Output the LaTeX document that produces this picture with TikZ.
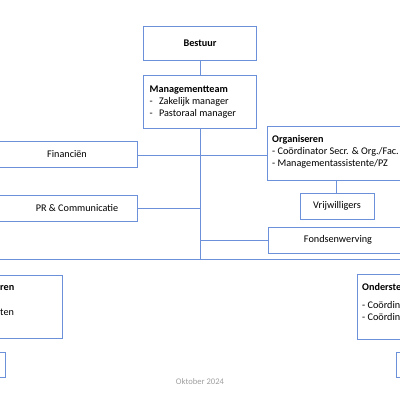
\documentclass[tikz,border=0pt]{standalone}
\usepackage{fontspec}
\setmainfont{Carlito}
\definecolor{bl}{RGB}{108,145,218}
\definecolor{gr}{RGB}{160,160,160}
\tikzset{
  box/.style={draw=bl, line width=1pt, fill=white, inner sep=0pt},
  conn/.style={draw=bl, line width=1pt},
  txt/.style={inner sep=0pt, font=\fontsize{10.2}{11.8}\selectfont, align=left},
}
\begin{document}
\begin{tikzpicture}[x=1pt,y=-1pt]
\useasboundingbox (0,0) rectangle (400,400);
\clip (0,0) rectangle (400,400);
\fill[white] (0,0) rectangle (400,400);
% connectors
\coordinate (hl) at (-10,259);
\coordinate (hr) at (410,259);
\coordinate (hm) at (200,259);
\coordinate (jpr) at (200,208);
\coordinate (jfw) at (200,240);
\draw[conn] (hl) -- (hr);
\draw[conn] (200,60) coordinate (bb) -- (200,75) coordinate (mt);
\draw[conn] (200,128) coordinate (mb) -- (hm);
\draw[conn] (137,155) coordinate (fr) -- (267,155) coordinate (ol);
\draw[conn] (137,208) coordinate (pr) -- (jpr);
\draw[conn] (jfw) -- (268,240) coordinate (fl);
\draw[conn] (336,180) coordinate (ob) -- (336,193) coordinate (vt);
% boxes
\draw[box] (143,26) rectangle (256,60);
\node[txt, font=\fontsize{10.2}{11.8}\selectfont\bfseries] (bestuur) at (200,43) {Bestuur};
\draw[box] (143,75) rectangle (256,128);
\node[txt, anchor=north west] (mteam) at (149.5,85.5) {\textbf{Managementteam}\\[0.3pt]
-\hspace{6.2pt}Zakelijk manager\\
-\hspace{6.2pt}Pastoraal manager};
\draw[box] (-5,141) rectangle (137,167);
\node[txt] (fin) at (67,154.5) {Financiën};
\draw[box] (-5,195) rectangle (137,221);
\node[txt] (prc) at (77,208) {PR \& Communicatie};
\draw[box] (267,126) rectangle (420,180);
\node[txt, anchor=north west] (org) at (272,135.5) {\textbf{Organiseren}\\
- Coördinator Secr. \& Org./Fac.\\
- Managementassistente/PZ};
\draw[box] (300,193) rectangle (374,219);
\node[txt] (vrij) at (337,206) {Vrijwilligers};
\draw[box] (268,227) rectangle (420,253);
\node[txt] (fonds) at (338,240) {Fondsenwerving};
% bottom boxes
\draw[box] (-20,275) rectangle (62,338);
\node[txt, anchor=west, font=\fontsize{10.2}{11.8}\selectfont\bfseries] (uitv) at (0,288) {ren};
\node[txt, anchor=west] (uitv2) at (0,312) {ten};
\draw[box] (-20,352) rectangle (5,377);
\draw[box] (357,274) rectangle (420,339);
\node[txt, anchor=north west] (ond) at (362,283.5) {\textbf{Onderste}\\[6pt]
- Coördin\\
- Coördin};
\draw[box] (396,352) rectangle (420,377);
\node[inner sep=0pt, text=gr, font=\fontsize{8.6}{10}\selectfont] (date) at (200,381.5) {Oktober 2024};
\end{tikzpicture}
\end{document}
